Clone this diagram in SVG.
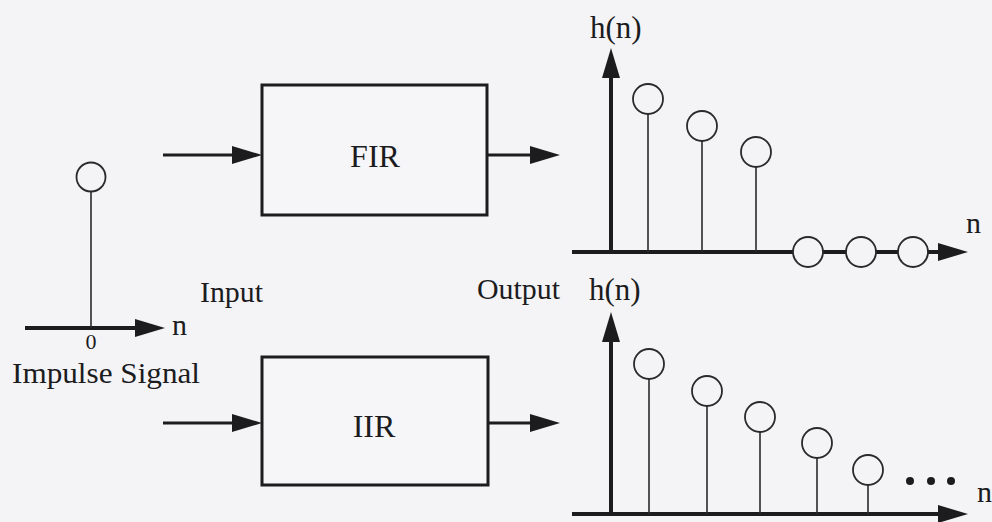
<svg xmlns="http://www.w3.org/2000/svg" width="992" height="522" viewBox="0 0 992 522">
<style>
  text { font-family: "Liberation Serif", "Times New Roman", serif; fill: #1c1c1e; }
  .axis { stroke: #1c1c1e; stroke-width: 4; fill: none; }
  .arr { stroke: #1c1c1e; stroke-width: 3; fill: none; }
  .stem { stroke: #2a2a2c; stroke-width: 1.6; fill: none; }
  .dot { stroke: #2a2a2c; stroke-width: 1.8; fill: #f4f4f6; }
  .box { stroke: #1c1c1e; stroke-width: 3; fill: #f6f6f8; }
</style>
<defs>
  <marker id="ah" viewBox="0 0 30 18" refX="4" refY="9" markerWidth="30" markerHeight="18" markerUnits="userSpaceOnUse" orient="auto">
    <path d="M0,0 L30,9 L0,18 z" fill="#1c1c1e"/>
  </marker>
</defs>
<rect x="0" y="0" width="992" height="522" fill="#f4f4f6"/>

<g id="impulse">
  <line class="axis" x1="25" y1="328" x2="139" y2="328" marker-end="url(#ah)"/>
  <line class="stem" x1="91" y1="192" x2="91" y2="328"/>
  <circle class="dot" cx="91" cy="177" r="14.5"/>
  <text x="172" y="335" font-size="30">n</text>
  <text x="91" y="349" font-size="22" text-anchor="middle">0</text>
  <text x="12" y="383" font-size="30" textLength="188" lengthAdjust="spacingAndGlyphs">Impulse Signal</text>
</g>

<g id="labels">
  <text x="200" y="302" font-size="29" textLength="63" lengthAdjust="spacingAndGlyphs">Input</text>
  <text x="477" y="299" font-size="30" textLength="83" lengthAdjust="spacingAndGlyphs">Output</text>
</g>

<g id="fir">
  <rect class="box" x="262" y="85" width="225" height="130"/>
  <text x="375" y="167" font-size="32" text-anchor="middle">FIR</text>
</g>

<g id="iir">
  <rect class="box" x="262" y="357" width="226" height="128"/>
  <text x="374" y="437" font-size="32" text-anchor="middle">IIR</text>
</g>

<g id="connectors">
  <line class="arr" x1="163" y1="155" x2="236" y2="155" marker-end="url(#ah)"/>
  <line class="arr" x1="488" y1="155" x2="534" y2="155" marker-end="url(#ah)"/>
  <line class="arr" x1="163" y1="423" x2="236" y2="423" marker-end="url(#ah)"/>
  <line class="arr" x1="489" y1="423" x2="534" y2="423" marker-end="url(#ah)"/>
</g>

<g id="fir-response">
  <line class="axis" x1="611" y1="252" x2="611" y2="74" marker-end="url(#ah)"/>
  <line class="axis" x1="572" y1="252" x2="942" y2="252" marker-end="url(#ah)"/>
  <line class="stem" x1="648" y1="114" x2="648" y2="252"/>
  <circle class="dot" cx="648" cy="99" r="15"/>
  <line class="stem" x1="702" y1="141" x2="702" y2="252"/>
  <circle class="dot" cx="702" cy="126" r="15"/>
  <line class="stem" x1="756" y1="167" x2="756" y2="252"/>
  <circle class="dot" cx="756" cy="152" r="15"/>
  <circle class="dot" cx="808" cy="252" r="15"/>
  <circle class="dot" cx="861" cy="252" r="15"/>
  <circle class="dot" cx="913" cy="252" r="15"/>
  <text x="590" y="38" font-size="31">h(n)</text>
  <text x="966" y="233" font-size="30">n</text>
</g>

<g id="iir-response">
  <line class="axis" x1="611" y1="514" x2="611" y2="338" marker-end="url(#ah)"/>
  <line class="axis" x1="572" y1="514" x2="942" y2="514" marker-end="url(#ah)"/>
  <line class="stem" x1="649" y1="379" x2="649" y2="514"/>
  <circle class="dot" cx="649" cy="364" r="15"/>
  <line class="stem" x1="707" y1="406" x2="707" y2="514"/>
  <circle class="dot" cx="707" cy="391" r="15"/>
  <line class="stem" x1="760" y1="432" x2="760" y2="514"/>
  <circle class="dot" cx="760" cy="417" r="15"/>
  <line class="stem" x1="817" y1="458" x2="817" y2="514"/>
  <circle class="dot" cx="817" cy="443" r="15"/>
  <line class="stem" x1="868" y1="485" x2="868" y2="514"/>
  <circle class="dot" cx="868" cy="470" r="15"/>
  <circle cx="910" cy="481" r="4" fill="#1c1c1e"/>
  <circle cx="931" cy="481" r="4" fill="#1c1c1e"/>
  <circle cx="951" cy="481" r="4" fill="#1c1c1e"/>
  <text x="589" y="300" font-size="31">h(n)</text>
  <text x="977" y="502" font-size="30">n</text>
</g>
</svg>
